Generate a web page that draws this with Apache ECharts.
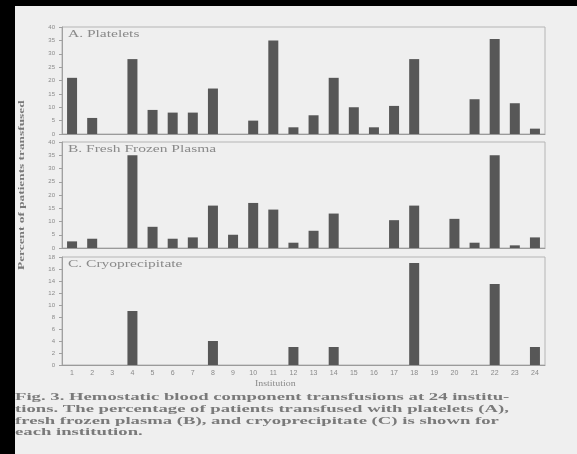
<!DOCTYPE html>
<html>
<head>
<meta charset="utf-8">
<script src="https://cdn.jsdelivr.net/npm/echarts@6/dist/echarts.min.js"></script>
<style>
  html, body { margin: 0; padding: 0; background: #000; }
  #main { width: 577px; height: 454px; }
</style>
</head>
<body>
<div id="main"></div>
<script>
// institutions 1..24
const institutions = ["1", "2", "3", "4", "5", "6", "7", "8", "9", "10", "11", "12",
  "13", "14", "15", "16", "17", "18", "19", "20", "21", "22", "23", "24"];
// percent of patients transfused
const platelets = [21, 6, 0, 28, 9, 8, 8, 17, 0, 5, 35, 2.5,
  7, 21, 10, 2.5, 10.5, 28, 0, 0, 13, 35.5, 11.5, 2];
const freshFrozenPlasma = [2.5, 3.5, 0, 35, 8, 3.5, 4, 16, 5, 17, 14.5, 2,
  6.5, 13, 0, 0, 10.5, 16, 0, 11, 2, 35, 1, 4];
const cryoprecipitate = [0, 0, 0, 9, 0, 0, 0, 4, 0, 0, 0, 3,
  0, 3, 0, 0, 0, 17, 0, 0, 0, 13.5, 0, 3];
// y scales
const panelMax = [40, 40, 18];
const panelStep = [5, 5, 2];
const panelTitles = ["A. Platelets", "B. Fresh Frozen Plasma", "C. Cryoprecipitate"];
const captionLines = [
  "Fig. 3. Hemostatic blood component transfusions at 24 institu-",
  "tions. The percentage of patients transfused with platelets (A),",
  "fresh frozen plasma (B), and cryoprecipitate (C) is shown for",
  "each institution."
];

const chart = echarts.init(document.getElementById("main"));

const grids = [
  { left: 62, width: 483, top: 27, height: 107 },
  { left: 62, width: 483, top: 142, height: 106 },
  { left: 62, width: 483, top: 257, height: 108 },
];
const seriesData = [platelets, freshFrozenPlasma, cryoprecipitate];
const textGray = "#8a8a8a";

const option = {
  backgroundColor: "#efefef",
  animation: false,
  grid: grids.map((g) => ({ ...g, show: true, borderColor: "#b5b5b5", borderWidth: 1, backgroundColor: "transparent" })),
  xAxis: grids.map((g, i) => ({
    type: "category",
    gridIndex: i,
    data: institutions,
    axisLine: { lineStyle: { color: "#9a9a9a" } },
    axisTick: { show: false },
    axisLabel: { show: i === 2, color: textGray, fontSize: 7, margin: 5, interval: 0 },
    splitLine: { show: false },
  })),
  yAxis: grids.map((g, i) => ({
    type: "value",
    gridIndex: i,
    min: 0,
    max: panelMax[i],
    interval: panelStep[i],
    axisLine: { show: true, lineStyle: { color: "#a0a0a0" } },
    axisTick: { show: true, length: 3, lineStyle: { color: "#a0a0a0" } },
    axisLabel: { color: textGray, fontSize: 6, margin: 7 },
    splitLine: { show: false },
  })),
  series: seriesData.map((d, i) => ({
    type: "bar",
    xAxisIndex: i,
    yAxisIndex: i,
    data: d,
    barWidth: 10,
    itemStyle: { color: "#575757" },
  })),
  graphic: [
    // dark scan edges
    { type: "rect", shape: { x: 0, y: 0, width: 577, height: 6 }, style: { fill: "#000" } },
    { type: "rect", shape: { x: 0, y: 0, width: 15, height: 454 }, style: { fill: "#000" } },
    ...panelTitles.map((t, i) => ({
      type: "text",
      x: 68,
      y: grids[i].top + 2,
      scaleX: 1.55,
      style: { text: t, fill: textGray, fontSize: 10, fontFamily: "Liberation Serif" },
    })),
    {
      type: "text",
      x: 17,
      y: 270,
      rotation: Math.PI / 2,
      scaleX: 1.48,
      style: { text: "Percent of patients transfused", fill: "#7a7a7a", fontSize: 9, fontWeight: "bold", fontFamily: "Liberation Serif" },
    },
    {
      type: "text",
      x: 255,
      y: 379,
      scaleX: 1.1,
      style: { text: "Institution", fill: textGray, fontSize: 9, fontFamily: "Liberation Serif" },
    },
    ...captionLines.map((t, i) => ({
      type: "text",
      x: 15,
      y: 392 + i * 11.7,
      scaleX: 1.78,
      style: { text: t, fill: "#7a7a7a", fontSize: 10.5, fontWeight: "bold", fontFamily: "Liberation Serif" },
    })),
  ],
};

chart.setOption(option);
</script>
</body>
</html>
